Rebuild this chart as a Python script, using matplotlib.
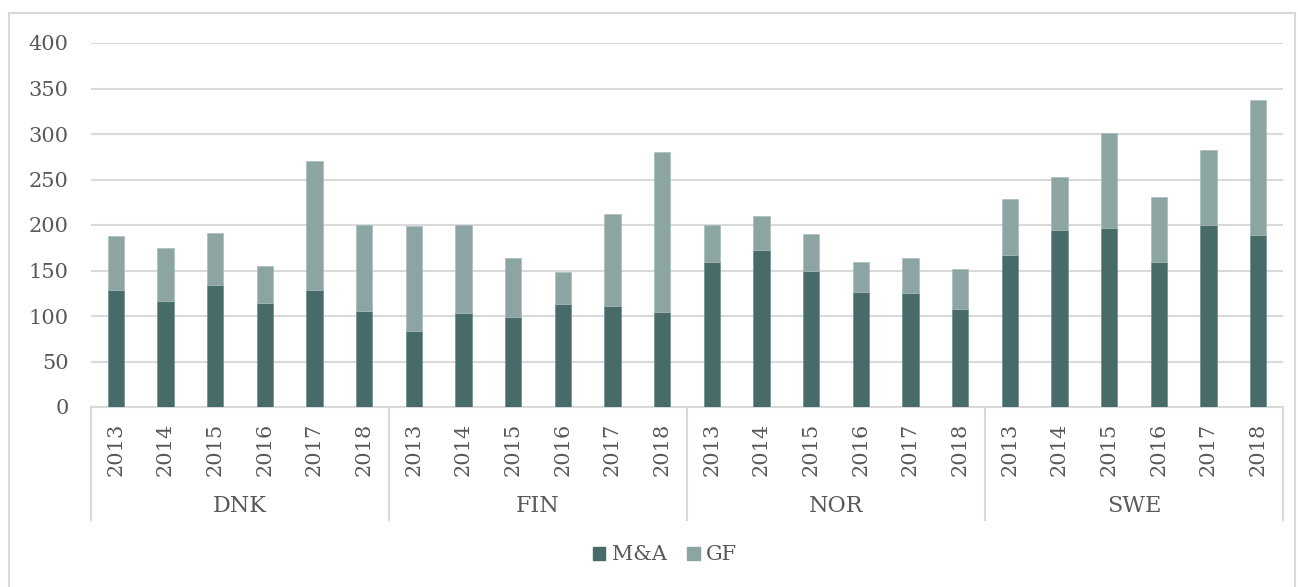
import numpy as np
import matplotlib
matplotlib.use("Agg")
import matplotlib.pyplot as plt
from matplotlib.patches import Rectangle, Patch
import matplotlib.transforms as mtransforms

# data
countries = ["DNK", "FIN", "NOR", "SWE"]
years = ["2013", "2014", "2015", "2016", "2017", "2018"]
ma_dnk = [129, 117, 134, 114, 129, 105]
ma_fin = [84, 103, 99, 113, 111, 104]
ma_nor = [159, 173, 150, 126, 125, 108]
ma_swe = [167, 195, 197, 159, 200, 189]
tot_dnk = [188, 175, 191, 155, 270, 200]
tot_fin = [199, 200, 164, 148, 212, 280]
tot_nor = [200, 210, 190, 159, 164, 152]
tot_swe = [229, 253, 301, 231, 282, 337]

ma = np.array(ma_dnk + ma_fin + ma_nor + ma_swe)
gf = np.array(tot_dnk + tot_fin + tot_nor + tot_swe) - ma

c_ma = "#466b68"
c_gf = "#8ca5a3"
c_grid = "#d9d9d9"
c_txt = "#595959"
plt.rcParams['font.family'] = ['DejaVu Serif']
fs = 15

W, H = 1298, 587
fig = plt.figure(figsize=(W/100, H/100), dpi=100)
fig.patches.append(Rectangle((9/W, -0.01), (1295-9)/W, 1 - 13/H + 0.01,
                             transform=fig.transFigure, fill=False,
                             edgecolor=c_grid, linewidth=1.5))

ax = fig.add_axes([91/W, 1 - 407/H, (1283-91)/W, (407-43)/H])
x = np.arange(len(ma))
ax.bar(x, ma, width=0.33, color=c_ma, edgecolor="#6f8f8c", linewidth=0.5, zorder=3)
ax.bar(x, gf, bottom=ma, width=0.33, color=c_gf, edgecolor="#a9bdbb", linewidth=0.5, zorder=3)

ax.set_xlim(-0.5, len(ma) - 0.5)
ax.set_ylim(0, 400)
ax.set_yticks(range(0, 401, 50))
ax.yaxis.grid(True, color=c_grid, linewidth=1.5)
ax.set_axisbelow(True)
for s in ["top", "right", "left"]:
    ax.spines[s].set_visible(False)
ax.spines["bottom"].set_color(c_grid)
ax.spines["bottom"].set_linewidth(1.5)

ax.set_xticks(x)
ax.set_xticklabels(years * len(countries), rotation=90, fontsize=fs, color=c_txt)
ax.tick_params(axis="x", length=0, pad=11)
ax.tick_params(axis="y", length=0, pad=16, labelsize=fs, labelcolor=c_txt)

trans = mtransforms.blended_transform_factory(ax.transData, ax.transAxes)
depth = -(520 - 407) / (407 - 43)
for k in range(len(countries) + 1):
    xp = k * len(years) - 0.5
    ax.plot([xp, xp], [0, depth], color=c_grid, linewidth=1.5, transform=trans, clip_on=False)
for k, c in enumerate(countries):
    ax.text(k * len(years) + 2.5, -(506 - 407) / (407 - 43), c, transform=trans,
            ha="center", va="center", fontsize=16, color=c_txt)

handles = [Patch(color=c_ma, label="M&A"), Patch(color=c_gf, label="GF")]
fig.legend(handles=handles, loc="center", bbox_to_anchor=(665/W, 1 - 555/H), ncol=2,
           frameon=False, fontsize=fs, labelcolor=c_txt, handlelength=0.6,
           handleheight=0.6, handletextpad=0.3, columnspacing=1.0)

fig.savefig("out.png", dpi=100)
